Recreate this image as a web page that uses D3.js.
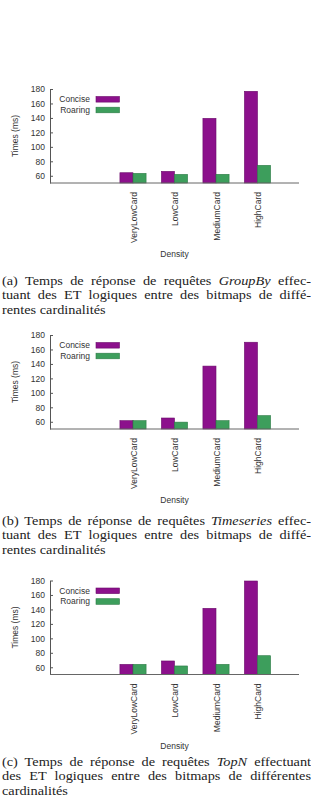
<!DOCTYPE html>
<html>
<head>
<meta charset="utf-8">
<script src="https://cdn.jsdelivr.net/npm/d3@7"></script>
<style>
  body { margin: 0; background: #fff; }
  svg { display: block; }
</style>
</head>
<body>
<div id="figure"></div>
<script>
// ----------------
// DATA
// ----------------
const categories = ["VeryLowCard", "LowCard", "MediumCard", "HighCard"];
const seriesNames = ["Concise", "Roaring"];

// (a) GroupBy
const conciseGroupBy = [64.2, 66.1, 139.4, 176.8];
const roaringGroupBy = [63.3, 61.9, 62.0, 74.4];
// (b) Timeseries
const conciseTimeseries = [61.5, 65.2, 137.0, 170.0];
const roaringTimeseries = [61.5, 59.5, 61.5, 68.5];
// (c) TopN
const conciseTopN = [64.0, 68.7, 141.5, 179.3];
const roaringTopN = [64.0, 61.8, 64.0, 76.0];

const yTicks = [60, 80, 100, 120, 140, 160, 180];
const yLabel = "Times (ms)";
const xLabel = "Density";

// captions: *...* = italic
const captionA = ["(a) Temps de réponse de requêtes *GroupBy* effec-",
                  "tuant des ET logiques entre des bitmaps de diffé-",
                  "rentes cardinalités"];
const captionB = ["(b) Temps de réponse de requêtes *Timeseries* effec-",
                  "tuant des ET logiques entre des bitmaps de diffé-",
                  "rentes cardinalités"];
const captionC = ["(c) Temps de réponse de requêtes *TopN* effectuant",
                  "des ET logiques entre des bitmaps de différentes",
                  "cardinalités"];

// ----------------
// LAYOUT
// ----------------
const W = 311, H = 808;
const plotLeft = 50, plotRight = 299, plotH = 94;
const color = d3.scaleOrdinal().domain(seriesNames).range(["#8c108c", "#3d9e5c"]);
const strokeColor = d3.scaleOrdinal().domain(seriesNames).range(["#6a0a6a", "#2c7a45"]);

const panels = [
    {top: 89,    captionY: 285, concise: conciseGroupBy,    roaring: roaringGroupBy,    caption: captionA},
    {top: 335,   captionY: 525, concise: conciseTimeseries, roaring: roaringTimeseries, caption: captionB},
    {top: 580.5, captionY: 766, concise: conciseTopN,       roaring: roaringTopN,       caption: captionC}
];

const svg = d3.select("#figure")
    .append("svg")
    .attr("width", W)
    .attr("height", H);

svg.append("rect").attr("width", W).attr("height", H).attr("fill", "#fff");

// categories sit at slots 2..5 of a 6-slot axis
const x = d3.scaleLinear()
    .domain([-2, 4])
    .range([plotLeft, plotRight]);
const barW = 0.315;

panels.forEach(function(p) {
    const g = svg.append("g")
        .style("font-family", "'Liberation Sans', Arial, sans-serif")
        .style("font-size", "8.5px");

    const y = d3.scaleLinear()
        .domain([50, 180])
        .range([p.top + plotH, p.top]);

    // bars
    const rows = categories.map((c, i) => ({cat: c, i: i, Concise: p.concise[i], Roaring: p.roaring[i]}));
    g.append("g")
        .selectAll("g")
        .data(seriesNames)
        .join("g")
        .attr("fill", d => color(d))
        .attr("stroke", d => strokeColor(d))
        .attr("stroke-width", 0.6)
        .each(function(s, si) {
            d3.select(this).selectAll("rect")
                .data(rows)
                .join("rect")
                .attr("x", d => x(d.i - barW + si * barW))
                .attr("width", x(barW) - x(0))
                .attr("y", d => y(d[s]))
                .attr("height", d => y(50) - y(d[s]));
        });

    // Y axis (ticks pointing inwards)
    const yAxis = g.append("g")
        .attr("transform", `translate(${plotLeft},0)`)
        .call(d3.axisLeft(y).tickValues(yTicks).tickSizeInner(-3).tickSizeOuter(0).tickPadding(5));
    yAxis.selectAll("path, line").attr("stroke", "#555");
    yAxis.selectAll("text")
        .attr("fill", "#333")
        .style("font-family", "'Liberation Sans', Arial, sans-serif")
        .style("font-size", "8.5px");

    // X baseline
    g.append("line")
        .attr("x1", plotLeft).attr("x2", plotRight)
        .attr("y1", y(50)).attr("y2", y(50))
        .attr("stroke", "#666")
        .attr("stroke-width", 1);

    // X labels, rotated
    g.selectAll(".xlab")
        .data(categories)
        .join("text")
        .attr("class", "xlab")
        .attr("transform", (d, i) => `translate(${x(i) + 1},${y(50) + 9}) rotate(-90)`)
        .attr("text-anchor", "end")
        .attr("dy", "0.35em")
        .attr("fill", "#333")
        .text(d => d);

    // axis titles
    g.append("text")
        .attr("transform", `translate(15,${p.top + plotH / 2}) rotate(-90)`)
        .attr("text-anchor", "middle")
        .attr("dy", "0.35em")
        .attr("fill", "#333")
        .text(yLabel);

    g.append("text")
        .attr("x", (plotLeft + plotRight) / 2)
        .attr("y", p.top + 165.5)
        .attr("text-anchor", "middle")
        .attr("dy", "0.35em")
        .attr("fill", "#333")
        .text(xLabel);

    // legend
    seriesNames.forEach(function(s, k) {
        const ly = p.top + 10.3 + k * 10.7;
        g.append("text")
            .attr("x", 90).attr("y", ly)
            .attr("text-anchor", "end")
            .attr("dy", "0.35em")
            .attr("fill", "#333")
            .text(s);
        g.append("rect")
            .attr("x", 96).attr("y", ly - 2.8)
            .attr("width", 23.5).attr("height", 5.6)
            .attr("fill", color(s))
            .attr("stroke", strokeColor(s))
            .attr("stroke-width", 0.6);
    });

    // caption, justified except the last line (glyphs slightly widened like the scan)
    const capLeft = 2, capRight = 311, stretch = 1.1;
    p.caption.forEach(function(line, li) {
        const t = svg.append("text")
            .attr("transform", `translate(${capLeft},${p.captionY + li * 14.4}) scale(${stretch},1)`)
            .attr("fill", "#222")
            .style("font-family", "'Liberation Serif', 'Times New Roman', serif")
            .style("font-size", "13px");
        line.split("*").forEach(function(part, pi) {
            if (part === "") return;
            t.append("tspan")
                .style("font-style", pi % 2 === 1 ? "italic" : "normal")
                .text(part);
        });
        if (li < p.caption.length - 1) {
            const natural = t.node().getComputedTextLength();
            const spaces = (line.match(/ /g) || []).length;
            if (spaces > 0) {
                t.attr("word-spacing", ((capRight - capLeft) / stretch - natural) / spaces);
            }
        }
    });
});
</script>
</body>
</html>
